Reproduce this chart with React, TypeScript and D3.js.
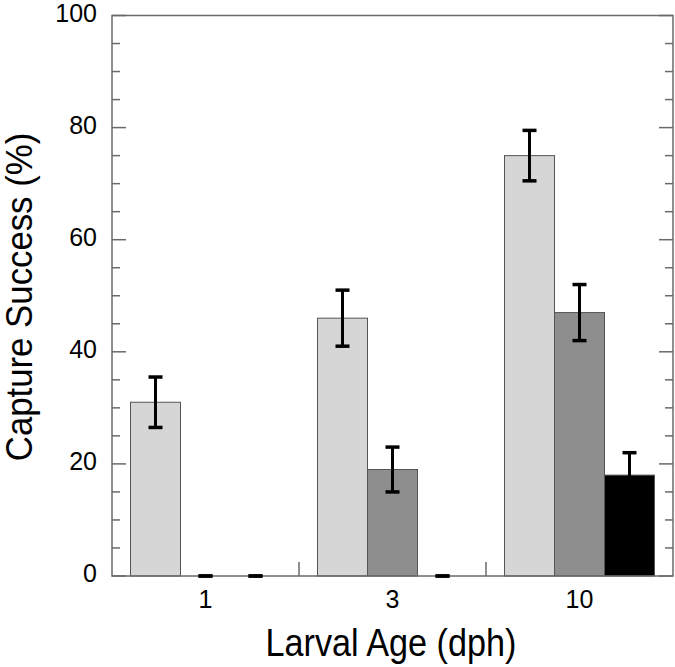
import React from "react";
import * as d3 from "d3";

const ages = ["1", "3", "10"];
const series = ["A", "B", "C"];
const seriesColors = ["#d6d6d6", "#8e8e8e", "#000000"];
const values = [
  [31, 0, 0],
  [46, 19, 0],
  [75, 47, 18],
];
const errors = [
  [4.5, 0, 0],
  [5, 4, 0],
  [4.5, 5, 4],
];
const yMajorTicks = [0, 20, 40, 60, 80, 100];
const yMinorTicks = d3.range(0, 101, 5).filter((v) => v % 20 !== 0);

const W = 675;
const H = 667;
const left = 112;
const right = 673;
const top = 15.5;
const bottom = 576;

export default function App() {
  const x = d3.scaleBand<string>().domain(ages).range([left, right]).padding(0);
  const xi = d3
    .scaleBand<string>()
    .domain(series)
    .range([0, x.bandwidth()])
    .paddingInner(0)
    .paddingOuter(0.37);
  const y = d3.scaleLinear().domain([0, 100]).range([bottom, top]);
  const axisColor = "#6a6a6a";
  const font = "'Liberation Sans', Arial, Helvetica, sans-serif";
  const boundaries = ages.slice(1).map((a) => x(a)!);

  return (
    <svg
      width={W}
      height={H}
      style={{ position: "absolute", left: 0, top: 0, background: "#fff" }}
      fontFamily={font}
    >
      {/* bars */}
      {ages.map((age, gi) =>
        series.map((s, si) => {
          const v = values[gi][si];
          if (v <= 0) return null;
          const bx = x(age)! + xi(s)!;
          return (
            <rect
              key={`b-${gi}-${si}`}
              x={bx}
              y={y(v)}
              width={xi.bandwidth()}
              height={y(0) - y(v)}
              fill={seriesColors[si]}
              stroke="#555"
              strokeWidth={1}
            />
          );
        })
      )}
      {/* frame */}
      <rect
        x={left}
        y={top}
        width={right - left}
        height={bottom - top}
        fill="none"
        stroke={axisColor}
        strokeWidth={1.5}
      />
      {/* y ticks left and right */}
      {yMajorTicks.map((t) => (
        <g key={`ym-${t}`}>
          <line x1={left} x2={left + 14} y1={y(t)} y2={y(t)} stroke={axisColor} strokeWidth={1.5} />
          <line x1={right} x2={right - 14} y1={y(t)} y2={y(t)} stroke={axisColor} strokeWidth={1.5} />
          <text
            x={left - 15}
            y={y(t) - 3}
            textAnchor="end"
            dominantBaseline="central"
            fontSize={25}
            fill="#000"
          >
            {t}
          </text>
        </g>
      ))}
      {yMinorTicks.map((t) => (
        <g key={`yn-${t}`}>
          <line x1={left} x2={left + 8} y1={y(t)} y2={y(t)} stroke={axisColor} strokeWidth={1.5} />
          <line x1={right} x2={right - 8} y1={y(t)} y2={y(t)} stroke={axisColor} strokeWidth={1.5} />
        </g>
      ))}
      {/* x boundary ticks */}
      {boundaries.map((bx, i) => (
        <line key={`xb-${i}`} x1={bx} x2={bx} y1={bottom} y2={bottom - 14} stroke={axisColor} strokeWidth={1.5} />
      ))}
      {/* error bars */}
      {ages.map((age, gi) =>
        series.map((s, si) => {
          const v = values[gi][si];
          const e = errors[gi][si];
          const cx = x(age)! + xi(s)! + xi.bandwidth() / 2;
          const capW = 7;
          return (
            <g key={`e-${gi}-${si}`} stroke="#000" strokeWidth={3.5}>
              <line x1={cx} x2={cx} y1={y(v - e)} y2={y(v + e)} strokeWidth={3} />
              <line x1={cx - capW} x2={cx + capW} y1={y(v + e)} y2={y(v + e)} />
              <line x1={cx - capW} x2={cx + capW} y1={y(Math.max(0, v - e))} y2={y(Math.max(0, v - e))} />
            </g>
          );
        })
      )}
      {/* x tick labels */}
      {ages.map((age) => (
        <text
          key={`xl-${age}`}
          x={x(age)! + x.bandwidth() / 2}
          y={608}
          textAnchor="middle"
          fontSize={25}
          fill="#000"
        >
          {age}
        </text>
      ))}
      <text
        transform="translate(391, 656) scale(0.9, 1)"
        textAnchor="middle"
        fontSize={38}
        fill="#000"
      >
        Larval Age (dph)
      </text>
      <text
        transform={`translate(32, 297) rotate(-90) scale(0.94, 1)`}
        textAnchor="middle"
        fontSize={37}
        fill="#000"
      >
        Capture Success (%)
      </text>
    </svg>
  );
}
